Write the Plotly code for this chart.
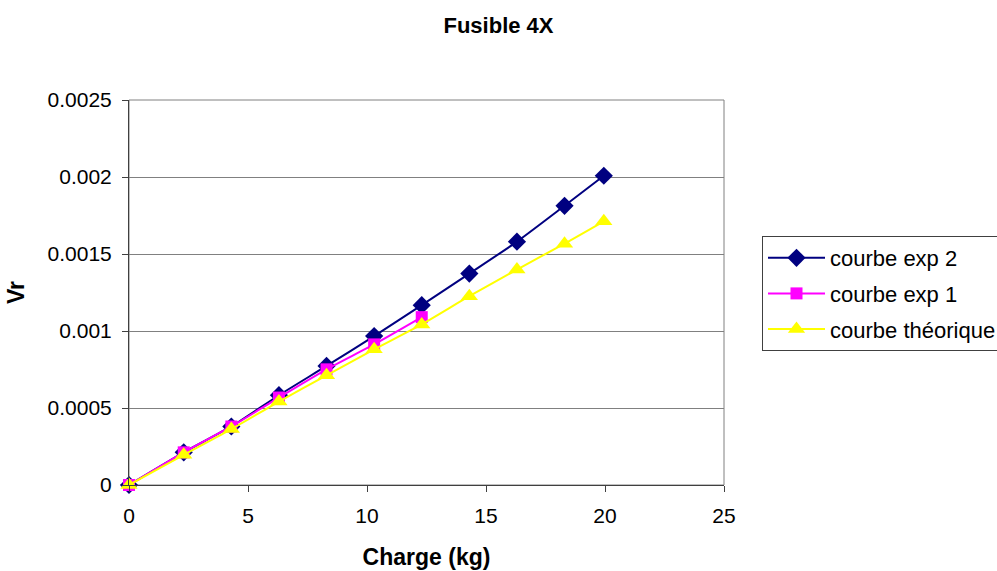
import plotly.graph_objects as go

charge = [0, 2.3, 4.3, 6.3, 8.3, 10.3, 12.3, 14.3, 16.3, 18.3, 19.95]
exp2 = [0, 0.000212, 0.00038, 0.000583, 0.000773, 0.000967, 0.001168, 0.001373, 0.00158, 0.001813, 0.002008]
charge_exp1 = [0, 2.3, 4.3, 6.3, 8.3, 10.3, 12.3]
exp1 = [0, 0.000212, 0.00038, 0.000568, 0.000751, 0.000913, 0.00109]
theo = [0, 0.000196, 0.000363, 0.000542, 0.000712, 0.000881, 0.001043, 0.001226, 0.001399, 0.001567, 0.001712]

FONT = "Liberation Sans, Arial, sans-serif"

fig = go.Figure()
fig.add_trace(go.Scatter(x=charge, y=exp2, name="courbe exp 2", mode="lines+markers", legendgroup="a",
                         cliponaxis=False,
                         line=dict(color="#000080", width=2, shape="spline", smoothing=0.6),
                         marker=dict(symbol="diamond", size=14, color="#000080")))
fig.add_trace(go.Scatter(x=charge_exp1, y=exp1, name="courbe exp 1", mode="lines+markers", legendgroup="b",
                         cliponaxis=False,
                         line=dict(color="#FF00FF", width=2, shape="spline", smoothing=0.6),
                         marker=dict(symbol="square", size=12, color="#FF00FF")))
fig.add_trace(go.Scatter(x=charge, y=theo, name="courbe théorique", mode="lines+markers", legendgroup="c",
                         cliponaxis=False,
                         line=dict(color="#FFFF00", width=2, shape="spline", smoothing=0.6),
                         marker=dict(symbol="triangle-up", size=15, color="#FFFF00")))

fig.update_layout(
    width=997, height=571,
    margin=dict(l=129, r=273, t=100, b=86, autoexpand=False),
    paper_bgcolor="white", plot_bgcolor="white",
    font=dict(family=FONT, size=21, color="black"),
    title=dict(text="<b>Fusible 4X</b>", x=0.5, xanchor="center", y=1 - 25 / 571, yanchor="middle",
               font=dict(size=22, family=FONT, color="black")),
    showlegend=True,
    legend=dict(x=(762 - 129) / 595, y=(485 - 236) / 385, xanchor="left", yanchor="top",
                bordercolor="#404040", borderwidth=1, bgcolor="white",
                font=dict(size=22, family=FONT), tracegroupgap=4, itemwidth=57),
)
fig.update_xaxes(range=[0, 25], dtick=5, tick0=0, showgrid=False, zeroline=False,
                 showline=True, linecolor="#404040", linewidth=1, mirror=False,
                 ticks="outside", ticklen=6, tickcolor="#404040", ticklabelstandoff=6,
                 title=dict(text="<b>Charge (kg)</b>", font=dict(size=23, family=FONT), standoff=22),
                 tickfont=dict(size=21))
fig.update_yaxes(range=[0, 0.0025], dtick=0.0005, tick0=0, showgrid=True, gridcolor="#808080", gridwidth=1,
                 zeroline=False, showline=True, linecolor="#404040", linewidth=1,
                 ticks="outside", ticklen=6, tickcolor="#404040", exponentformat="none",
                 ticklabelstandoff=6,
                 title=dict(text="<b>Vr</b>", font=dict(size=23, family=FONT), standoff=16),
                 tickfont=dict(size=21))
fig.add_shape(type="rect", xref="paper", yref="paper", x0=0, y0=0, x1=1, y1=1,
              line=dict(color="#808080", width=1), layer="below")

fig.write_html("out.html")
